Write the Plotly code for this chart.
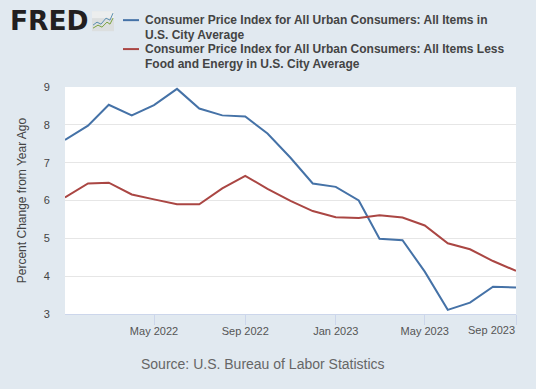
import plotly.graph_objects as go

W, H = 536, 389
months = ["2022-01-01","2022-02-01","2022-03-01","2022-04-01","2022-05-01","2022-06-01","2022-07-01",
          "2022-08-01","2022-09-01","2022-10-01","2022-11-01","2022-12-01","2023-01-01","2023-02-01",
          "2023-03-01","2023-04-01","2023-05-01","2023-06-01","2023-07-01","2023-08-01","2023-09-01"]
all_items = [7.6,7.98,8.53,8.25,8.52,8.95,8.43,8.25,8.22,7.77,7.13,6.45,6.36,6.0,4.99,4.95,4.12,3.11,3.3,3.72,3.70]
core = [6.08,6.45,6.47,6.16,6.03,5.9,5.9,6.32,6.65,6.31,5.99,5.72,5.56,5.54,5.61,5.55,5.34,4.87,4.71,4.40,4.14]
tick_vals = ["2022-05-01","2022-09-01","2023-01-01","2023-05-01","2023-09-01"]
tick_text = ["May 2022","Sep 2022","Jan 2023","May 2023",""]
last_tick_label = "Sep 2023"
lines_a = ["Consumer Price Index for All Urban Consumers: All Items in", "U.S. City Average"]
lines_b = ["Consumer Price Index for All Urban Consumers: All Items Less", "Food and Energy in U.S. City Average"]
BG = "#e1e9f0"
BLUE, RED = "#4572a7", "#aa4643"
FONT = "Liberation Sans, Arial, sans-serif"

L, R, T, B = 65, 516, 87, 314.5
def px(x): return (x - L) / (R - L)
def py(y): return (B - y) / (B - T)

fig = go.Figure()
fig.add_trace(go.Scatter(x=months, y=all_items, mode="lines", name=" ".join(lines_a),
                         line=dict(color=BLUE, width=2), cliponaxis=False))
fig.add_trace(go.Scatter(x=months, y=core, mode="lines", name=" ".join(lines_b),
                         line=dict(color=RED, width=2), cliponaxis=False))

shapes = [
    dict(type="rect", xref="paper", yref="paper", x0=px(92), x1=px(114), y0=py(31), y1=py(11),
         fillcolor="#dcdfdf", line=dict(width=0), layer="above"),
    dict(type="rect", xref="paper", yref="paper", x0=px(92), x1=px(114), y0=py(18), y1=py(11),
         fillcolor="#eceeee", line=dict(width=0), layer="above"),
    dict(type="line", xref="paper", yref="paper", x0=px(123), x1=px(139), y0=py(20), y1=py(20),
         line=dict(color=BLUE, width=2), layer="above"),
    dict(type="line", xref="paper", yref="paper", x0=px(123), x1=px(139), y0=py(49), y1=py(49),
         line=dict(color=RED, width=2), layer="above"),
]
logo_blue = [(93,25),(97,22),(101,24),(106,18),(110,20),(113,13)]
logo_green = [(93,28),(98,25),(102,27),(107,22),(110,24),(113,18)]
for pts, col in ((logo_blue, "#5b8fb0"), (logo_green, "#7ba23f")):
    path = "M " + " L ".join(f"{px(x):.4f} {py(y):.4f}" for x, y in pts)
    shapes.append(dict(type="path", xref="paper", yref="paper", path=path,
                       line=dict(color=col, width=1), layer="above"))

legend_notes = [
    dict(text=f"<b>{t}</b>", xref="paper", yref="paper", x=px(142.5), y=py(yy), xanchor="left",
         yanchor="middle", showarrow=False, font=dict(size=12, color="#444444"))
    for t, yy in zip(lines_a + lines_b, (19.5, 34.5, 48.5, 63.5))
]

fig.update_layout(
    width=W, height=H, autosize=False, showlegend=False,
    paper_bgcolor=BG, plot_bgcolor="#ffffff",
    font=dict(family=FONT, color="#333333"),
    margin=dict(l=L, r=W-R, t=T, b=H-B, autoexpand=False, pad=0),
    xaxis=dict(type="date", range=["2022-01-01","2023-09-01"], tickmode="array",
               tickvals=tick_vals, ticktext=tick_text, ticks="outside", ticklen=10,
               ticklabelstandoff=-3,
               tickcolor="#ccd6eb", tickwidth=1, showgrid=False, showline=True,
               linecolor="#ccd6eb", linewidth=1, tickfont=dict(size=11, color="#555555")),
    yaxis=dict(range=[3,9], tickvals=[3,4,5,6,7,8,9], showgrid=True, gridcolor="#e6e6e6",
               gridwidth=1, zeroline=False, showline=False, ticks="outside", ticklen=12,
               tickcolor="rgba(0,0,0,0)",
               tickfont=dict(size=11, color="#444444"),
               title=dict(text="Percent Change from Year Ago", standoff=14,
                          font=dict(size=12, color="#444444"))),
    shapes=shapes,
    annotations=legend_notes + [
        dict(text="<b>FRED</b>", xref="paper", yref="paper", x=px(7.5), y=py(20.5), xanchor="left",
             yanchor="middle", showarrow=False,
             font=dict(family="DejaVu Sans", size=26.5, color="#231f20")),
        dict(text="Source: U.S. Bureau of Labor Statistics", xref="paper", yref="paper",
             x=px(263), y=py(364.5), xanchor="center", yanchor="middle", showarrow=False,
             font=dict(size=14, color="#666666")),
        dict(text=last_tick_label, xref="x", yref="paper", x=tick_vals[-1], y=py(330.5),
             xanchor="right", yanchor="middle", showarrow=False, xshift=1,
             font=dict(size=11, color="#555555")),
    ],
)
fig.write_html("out.html", config=dict(displayModeBar=False),
               post_script="document.body.style.margin='0';document.body.style.background='#e1e9f0';")
